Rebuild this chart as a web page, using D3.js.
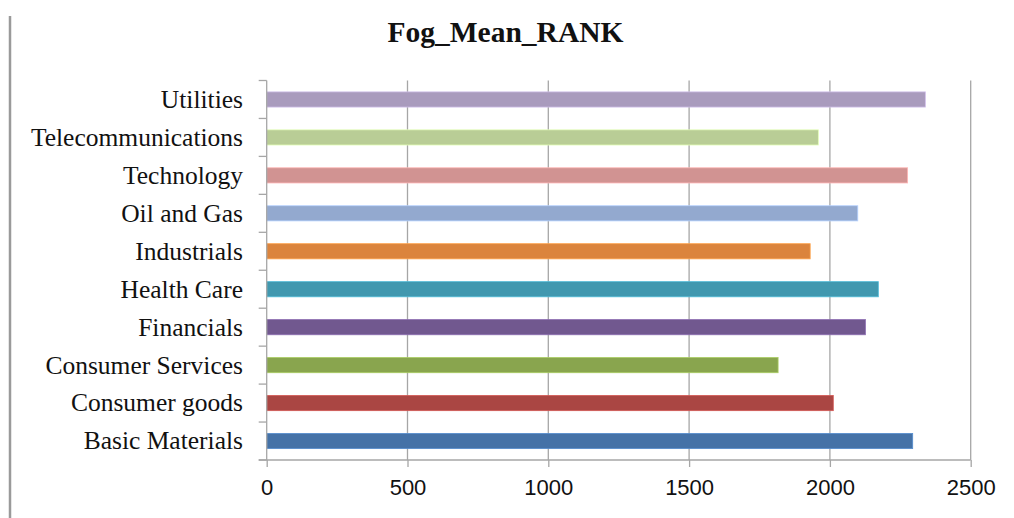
<!DOCTYPE html>
<html>
<head>
<meta charset="utf-8">
<script src="https://cdn.jsdelivr.net/npm/d3@7"></script>
<style>
  html, body { margin: 0; padding: 0; background: #fff; }
  svg { display: block; }
</style>
</head>
<body>
<svg id="chart" width="1014" height="518"></svg>
<script>
// Sector names, bottom to top as drawn
const sectors = ["Basic Materials", "Consumer goods", "Consumer Services", "Financials",
  "Health Care", "Industrials", "Oil and Gas", "Technology", "Telecommunications", "Utilities"];
// Mean Fog rank per sector
const fogMeanRank = [2294, 2012, 1816, 2126, 2172, 1930, 2099, 2276, 1959, 2339];
// Bar fill per sector
const barColors = ["#4572A7", "#AA4643", "#89A54E", "#71588F", "#4198AF",
  "#DB843D", "#93A9CF", "#D19392", "#B9CD96", "#A99BBD"];
// Value-axis ticks
const xTicks = [0, 500, 1000, 1500, 2000, 2500];
const chartTitle = "Fog_Mean_RANK";

const svg = d3.select("#chart");
const plot = { left: 266.7, right: 970.7, top: 80.5, bottom: 460 };
const gridColor = "#a6a6a6";

// frame line on the left edge
svg.append("line")
  .attr("x1", 10).attr("x2", 10).attr("y1", 16).attr("y2", 518)
  .attr("stroke", "#9a9a9a").attr("stroke-width", 2.5);

const x = d3.scaleLinear().domain([0, 2500]).range([plot.left, plot.right]);
const y = d3.scaleBand()
  .domain(sectors.slice().reverse())
  .range([plot.top, plot.bottom])
  .paddingInner(0.6).paddingOuter(0.3);

// vertical gridlines
svg.append("g").selectAll("line")
  .data(xTicks.filter(d => d > 0))
  .join("line")
  .attr("x1", d => x(d)).attr("x2", d => x(d))
  .attr("y1", plot.top).attr("y2", plot.bottom)
  .attr("stroke", gridColor).attr("stroke-width", 1.3);

// bars
svg.append("g").selectAll("rect")
  .data(sectors.map((s, i) => ({ s, v: fogMeanRank[i], c: barColors[i] })))
  .join("rect")
  .attr("x", x(0))
  .attr("y", d => y(d.s))
  .attr("width", d => x(d.v) - x(0))
  .attr("height", y.bandwidth())
  .attr("fill", d => d.c)
  .attr("stroke", d => d3.color(d.c).brighter(0.6))
  .attr("stroke-width", 0.8);

// value axis
const xAxis = d3.axisBottom(x).tickValues(xTicks).tickFormat(d3.format("d"))
  .tickSize(7).tickPadding(12);
const gx = svg.append("g").attr("transform", `translate(0,${plot.bottom})`).call(xAxis);
gx.select(".domain").remove();
gx.selectAll(".tick line").attr("stroke", gridColor).attr("stroke-width", 1.3);
gx.selectAll(".tick text")
  .attr("font-family", "'Liberation Sans', Arial, sans-serif")
  .attr("font-size", 22).attr("fill", "#111");
gx.append("line")
  .attr("x1", plot.left - 8).attr("x2", plot.right)
  .attr("y1", 0).attr("y2", 0)
  .attr("stroke", gridColor).attr("stroke-width", 1.3);

// category axis: tick marks between bands
const bounds = d3.range(sectors.length + 1).map(i => plot.top + i * y.step());
svg.append("line")
  .attr("x1", plot.left).attr("x2", plot.left)
  .attr("y1", plot.top).attr("y2", plot.bottom)
  .attr("stroke", gridColor).attr("stroke-width", 1.3);
svg.append("g").selectAll("line")
  .data(bounds)
  .join("line")
  .attr("x1", plot.left - 8).attr("x2", plot.left)
  .attr("y1", d => d).attr("y2", d => d)
  .attr("stroke", gridColor).attr("stroke-width", 1.3);

// category labels
svg.append("g").selectAll("text")
  .data(sectors)
  .join("text")
  .attr("x", 243)
  .attr("y", d => y(d) + y.bandwidth() / 2)
  .attr("dy", "0.33em")
  .attr("text-anchor", "end")
  .attr("font-family", "'Liberation Serif', 'Times New Roman', serif")
  .attr("font-size", 25.5)
  .attr("fill", "#111")
  .text(d => d);

// title
svg.append("text")
  .attr("x", 505.5).attr("y", 41.7)
  .attr("text-anchor", "middle")
  .attr("font-family", "'Liberation Serif', 'Times New Roman', serif")
  .attr("font-weight", "bold")
  .attr("font-size", 29.5)
  .attr("fill", "#111")
  .text(chartTitle);
</script>
</body>
</html>
